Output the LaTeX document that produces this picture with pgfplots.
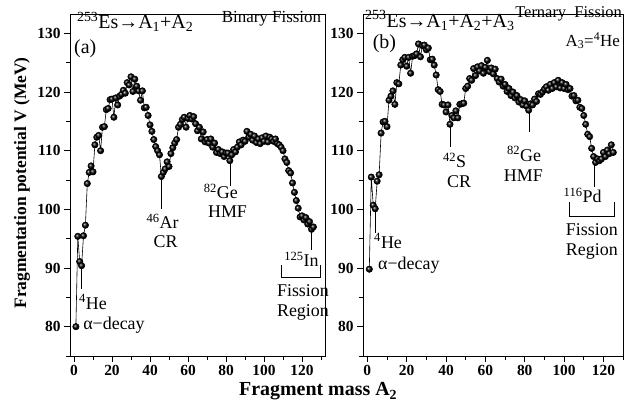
\documentclass[border=0pt]{standalone}
\usepackage{fontspec}
\setmainfont{Liberation Serif}
\usepackage{pgfplots}
\usepackage{pgfplotstable}
\pgfplotsset{compat=1.18}

% binary fission, 253Es -> A1 + A2
\pgfplotstableread{
A V
1 80.0
2 95.4
3 91.1
4 90.4
5 95.5
6 97.3
7 104.4
8 106.3
9 107.4
10 106.4
11 111.0
12 112.3
13 112.6
14 110.0
15 114.0
16 114.1
17 117.0
18 117.2
19 118.7
20 118.8
21 115.7
22 119.0
23 117.8
24 119.3
25 119.6
26 120.3
27 119.8
28 121.6
29 121.2
30 122.6
31 120.1
32 122.2
33 121.0
34 120.2
35 118.6
36 120.2
37 117.3
38 117.4
39 116.0
40 114.4
41 113.3
42 111.9
43 110.7
44 110.0
45 109.3
46 105.6
47 106.3
48 106.9
49 108.1
50 107.3
51 109.5
52 110.5
53 111.3
54 111.9
55 114.0
56 114.5
57 115.3
58 115.7
59 114.0
60 115.5
61 116.0
62 115.4
63 115.8
64 114.6
65 113.4
66 114.0
67 112.0
68 113.2
69 111.5
70 111.9
71 111.3
72 112.0
73 110.6
74 111.3
75 109.7
76 110.2
77 109.5
78 109.8
79 109.0
80 109.6
81 109.6
82 108.3
83 109.3
84 110.2
85 109.8
86 110.6
87 111.5
88 111.0
89 111.8
90 111.6
91 113.3
92 112.3
93 112.8
94 111.8
95 112.5
96 111.4
97 112.0
98 111.2
99 112.2
100 111.6
101 112.5
102 111.5
103 112.3
104 112.0
105 111.6
106 112.0
107 111.2
108 111.0
109 110.6
110 110.0
111 108.6
112 108.0
113 106.6
114 106.2
115 104.5
116 102.9
117 101.5
118 100.2
119 98.7
120 98.9
121 98.2
122 98.6
123 97.5
124 97.9
125 96.6
126 97.0
}\binary

% ternary fission, 253Es -> A1 + A2 + 4He
\pgfplotstableread{
A V
1 89.8
2 105.5
3 100.7
4 100.1
5 104.8
6 105.9
7 113.0
8 114.9
9 115.0
10 114.1
11 118.6
12 119.3
13 120.2
14 117.9
15 121.6
16 121.4
17 124.6
18 125.5
19 125.9
20 124.4
21 125.9
22 123.2
23 126.1
24 126.2
25 126.5
26 128.2
27 126.0
28 127.9
29 128.0
30 127.2
31 127.5
32 125.5
33 125.6
34 124.6
35 122.9
36 120.4
37 120.1
38 117.9
39 117.8
40 116.6
41 117.8
42 114.5
43 116.0
44 115.6
45 116.8
46 115.6
47 117.9
48 118.0
49 118.1
50 120.6
51 121.0
52 122.3
53 122.0
54 124.0
55 122.8
56 124.3
57 123.6
58 124.5
59 123.2
60 124.2
61 125.4
62 123.5
63 124.1
64 123.1
65 123.9
66 122.3
67 121.7
68 122.2
69 121.0
70 121.3
71 120.1
72 120.6
73 119.4
74 120.0
75 119.0
76 119.4
77 118.3
78 118.7
79 117.8
80 118.5
81 117.6
82 116.9
83 118.0
84 117.8
85 118.8
86 118.4
87 119.7
88 119.6
89 120.0
90 120.5
91 120.9
92 120.3
93 121.3
94 120.6
95 121.6
96 120.9
97 122.0
98 120.7
99 121.6
100 120.6
101 121.3
102 120.4
103 120.6
104 119.3
105 119.4
106 118.5
107 118.6
108 117.4
109 117.2
110 116.0
111 114.5
112 112.8
113 112.4
114 110.4
115 109.0
116 108.0
117 108.6
118 108.3
119 108.6
120 109.7
121 109.0
122 110.1
123 109.5
124 111.0
125 109.7
}\ternary

\newcommand{\annfont}{\fontsize{18}{20}\selectfont}
\newcommand{\headfont}{\fontsize{20}{22}\selectfont}

\pgfplotsset{
  panel/.style={
    scale only axis,
    height=342bp,
    ymin=75, ymax=133.3,
    xtick={0,20,...,120},
    minor xtick={10,30,...,130},
    ytick={80,90,...,130},
    minor ytick={75,85,...,125},
    tick pos=left,
    tick align=outside,
    major tick length=6bp,
    minor tick length=4bp,
    every tick/.style={black, line width=0.9pt},
    axis line style={line width=0.9pt},
    ticklabel style={font=\fontsize{15.5}{17}\selectfont\bfseries},
    /pgf/number format/assume math mode=true,
    clip=false,
  },
  fragline/.style={black, line width=0.6pt, mark=ball, mark size=3.2pt,
    mark options={ball color=black}},
}

\begin{document}
\begin{tikzpicture}[x=1bp,y=1bp]
\path[use as bounding box] (0,0) rectangle (625,408);

\begin{axis}[panel,
  at={(70bp,52bp)}, anchor=south west,
  width=255bp,
  xmin=-2.1, xmax=132.1,
  ylabel={Fragmentation potential V (MeV)},
  ylabel style={at={(axis description cs:-0.188,0.506)}, anchor=center,
    font=\fontsize{17.5}{19}\selectfont\bfseries},
  xlabel={Fragment mass A\textsubscript{2}},
  xlabel style={at={(axis description cs:0.973,-0.104)}, anchor=center,
    font=\fontsize{20}{22}\selectfont\bfseries},
]
\addplot[fragline] table[x=A, y=V] {\binary};

\node[anchor=base west, font=\headfont, inner sep=0] at (axis cs:1.5,130.8) {\textsuperscript{253}Es→A\textsubscript{1}+A\textsubscript{2}};
\node[anchor=base west, font=\headfont, inner sep=0] at (axis cs:0,126.6) {(a)};
\node[anchor=base west, font=\fontsize{17}{19}\selectfont, inner sep=0] at (axis cs:77.7,131.9) {Binary Fission};

\draw[line width=0.6pt] (axis cs:3.8,90.1) -- (axis cs:3.8,86.4);
\node[anchor=base west, font=\annfont, inner sep=0] at (axis cs:2.6,83.0) {\textsuperscript{4}He};
\node[anchor=base west, font=\annfont, inner sep=0] at (axis cs:4.8,79.5) {α−decay};

\draw[line width=0.6pt] (axis cs:46.1,105.4) -- (axis cs:46.1,100.0);
\node[anchor=base, font=\annfont, inner sep=0] at (axis cs:46.6,96.7) {\textsuperscript{46}Ar};
\node[anchor=base, font=\annfont, inner sep=0] at (axis cs:48.2,93.5) {CR};

\draw[line width=0.6pt] (axis cs:82.1,108.1) -- (axis cs:82.1,104.0);
\node[anchor=base, font=\annfont, inner sep=0] at (axis cs:77.3,101.8) {\textsuperscript{82}Ge};
\node[anchor=base, font=\annfont, inner sep=0] at (axis cs:80.8,98.6) {HMF};

\draw[line width=0.6pt] (axis cs:125.1,96.4) -- (axis cs:125.1,93.1);
\node[anchor=base, font=\annfont, inner sep=0] at (axis cs:119.7,90.3) {\textsuperscript{125}In};
\draw[line width=0.6pt] (axis cs:109.3,90.5) -- (axis cs:109.3,88.4) -- (axis cs:129.5,88.4) -- (axis cs:129.5,90.5);
\node[anchor=base, font=\annfont, inner sep=0] at (axis cs:120.5,85.1) {Fission};
\node[anchor=base, font=\annfont, inner sep=0] at (axis cs:120.5,81.8) {Region};
\end{axis}

\begin{axis}[panel,
  at={(363bp,52bp)}, anchor=south west,
  width=260.5bp,
  xmin=-2.2, xmax=130.2,
]
\addplot[fragline] table[x=A, y=V] {\ternary};

\node[anchor=base west, font=\headfont, inner sep=0] at (axis cs:-1.2,131.0) {\textsuperscript{253}Es→A\textsubscript{1}+A\textsubscript{2}+A\textsubscript{3}};
\node[anchor=base west, font=\fontsize{16.5}{18}\selectfont, inner sep=0] at (axis cs:75.1,132.7) {Ternary\ \ Fission};
\node[anchor=base east, font=\fontsize{17}{19}\selectfont, inner sep=0] at (axis cs:128.5,127.8) {A\textsubscript{3}=\textsuperscript{4}He};
\node[anchor=base west, font=\headfont, inner sep=0] at (axis cs:2.7,127.4) {(b)};

\draw[line width=0.6pt] (axis cs:4,99.9) -- (axis cs:4,96.0);
\node[anchor=base west, font=\annfont, inner sep=0] at (axis cs:3.4,93.4) {\textsuperscript{4}He};
\node[anchor=base west, font=\annfont, inner sep=0] at (axis cs:5.4,89.7) {α−decay};

\draw[line width=0.6pt] (axis cs:42,114.3) -- (axis cs:42,110.6);
\node[anchor=base, font=\annfont, inner sep=0] at (axis cs:44.4,107.1) {\textsuperscript{42}S};
\node[anchor=base, font=\annfont, inner sep=0] at (axis cs:46.6,103.7) {CR};

\draw[line width=0.6pt] (axis cs:82.2,116.7) -- (axis cs:82.2,113.2);
\node[anchor=base, font=\annfont, inner sep=0] at (axis cs:79.7,108.2) {\textsuperscript{82}Ge};
\node[anchor=base, font=\annfont, inner sep=0] at (axis cs:79.3,104.8) {HMF};

\draw[line width=0.6pt] (axis cs:115.6,107.8) -- (axis cs:115.6,103.8);
\node[anchor=base, font=\annfont, inner sep=0] at (axis cs:109.4,101.2) {\textsuperscript{116}Pd};
\draw[line width=0.6pt] (axis cs:102.5,101.2) -- (axis cs:102.5,98.9) -- (axis cs:125.4,98.9) -- (axis cs:125.4,101.2);
\node[anchor=base, font=\annfont, inner sep=0] at (axis cs:114.1,95.5) {Fission};
\node[anchor=base, font=\annfont, inner sep=0] at (axis cs:114.1,92.2) {Region};
\end{axis}
\end{tikzpicture}
\end{document}
